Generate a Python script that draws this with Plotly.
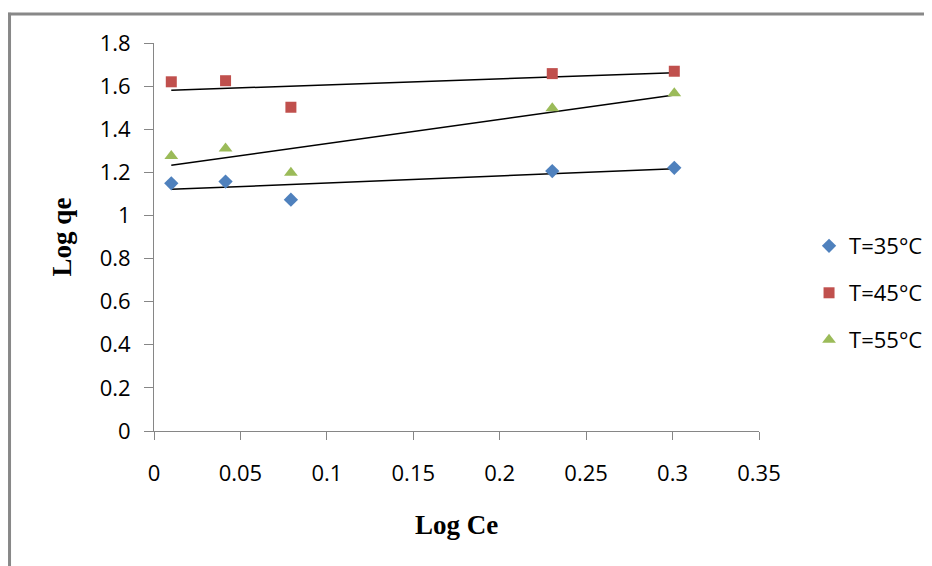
import numpy as np
import plotly.graph_objects as go

# Data
log_ce = [0.010, 0.0414, 0.0792, 0.2304, 0.301]
log_qe_35 = [1.149, 1.157, 1.073, 1.206, 1.221]
log_qe_45 = [1.620, 1.625, 1.502, 1.658, 1.669]
log_qe_55 = [1.276, 1.311, 1.198, 1.497, 1.567]

series_names = ["T=35°C", "T=45°C", "T=55°C"]
series_values = [log_qe_35, log_qe_45, log_qe_55]
series_colors = ["#4F81BD", "#C0504D", "#9BBB59"]
series_symbols = ["diamond", "square", "triangle-up"]
series_sizes = [11, 11, 12]

x_ticks = [0, 0.05, 0.1, 0.15, 0.2, 0.25, 0.3, 0.35]
y_ticks = [0, 0.2, 0.4, 0.6, 0.8, 1.0, 1.2, 1.4, 1.6, 1.8]

legend_names = ["legend", "legend2", "legend3"]
legend_y = [0.4768, 0.3557, 0.2345]

fig = go.Figure()
xs = np.array(log_ce)
for name, vals, col, sym, sz, lg in zip(series_names, series_values, series_colors,
                                        series_symbols, series_sizes, legend_names):
    ys = np.array(vals)
    slope, icpt = np.polyfit(xs, ys, 1)
    xl = np.array([xs.min(), xs.max()])
    fig.add_trace(go.Scatter(x=xl, y=slope * xl + icpt, mode="lines",
                             line=dict(color="black", width=1.5),
                             showlegend=False, hoverinfo="skip"))
for name, vals, col, sym, sz, lg in zip(series_names, series_values, series_colors,
                                        series_symbols, series_sizes, legend_names):
    fig.add_trace(go.Scatter(x=log_ce, y=vals, mode="markers", name=name,
                             marker=dict(color=col, symbol=sym, size=sz, line=dict(width=0)),
                             legend=lg))

axis_col = "#868686"
tick_font = dict(family="Open Sans", size=22, color="black")
title_font = dict(family="Liberation Serif", size=27, color="black")

# the page places the figure 8px in from the top-left corner; margins compensate
fig.update_layout(
    width=932, height=566,
    margin=dict(l=146, r=181, t=35, b=143),
    paper_bgcolor="white", plot_bgcolor="white",
    xaxis=dict(range=[0, 0.35], tickvals=x_ticks,
               ticktext=[f"{v:g}" for v in x_ticks],
               showgrid=False, zeroline=False, showline=True, linecolor=axis_col,
               linewidth=1, ticks="outside", ticklen=8, tickcolor=axis_col,
               tickfont=tick_font, ticklabelstandoff=15,
               title=dict(text="<b>Log Ce</b>", font=title_font, standoff=28)),
    yaxis=dict(range=[0, 1.8], tickvals=y_ticks,
               ticktext=[f"{v:g}" for v in y_ticks],
               showgrid=False, zeroline=False, showline=True, linecolor=axis_col,
               linewidth=1, ticks="outside", ticklen=9, tickcolor=axis_col,
               tickfont=tick_font, ticklabelstandoff=9,
               title=dict(text="<b>Log qe</b>", font=title_font, standoff=20)),
    showlegend=True,
)
leg_font = dict(family="Open Sans", size=22, color="black")
for lg, yy in zip(legend_names, legend_y):
    fig.update_layout({lg: dict(x=1.0827, y=yy, xanchor="left", yanchor="middle",
                                font=leg_font, bgcolor="rgba(0,0,0,0)",
                                borderwidth=0)})

frame_col = "#888888"
fig.add_shape(type="line", xref="paper", yref="paper",
              x0=-0.2413, x1=1.3, y0=1.0747, y1=1.0747,
              line=dict(color=frame_col, width=3))
fig.add_shape(type="line", xref="paper", yref="paper",
              x0=-0.2388, x1=-0.2388, y0=1.078, y1=-0.36,
              line=dict(color=frame_col, width=3))

fig.write_html("out.html")
